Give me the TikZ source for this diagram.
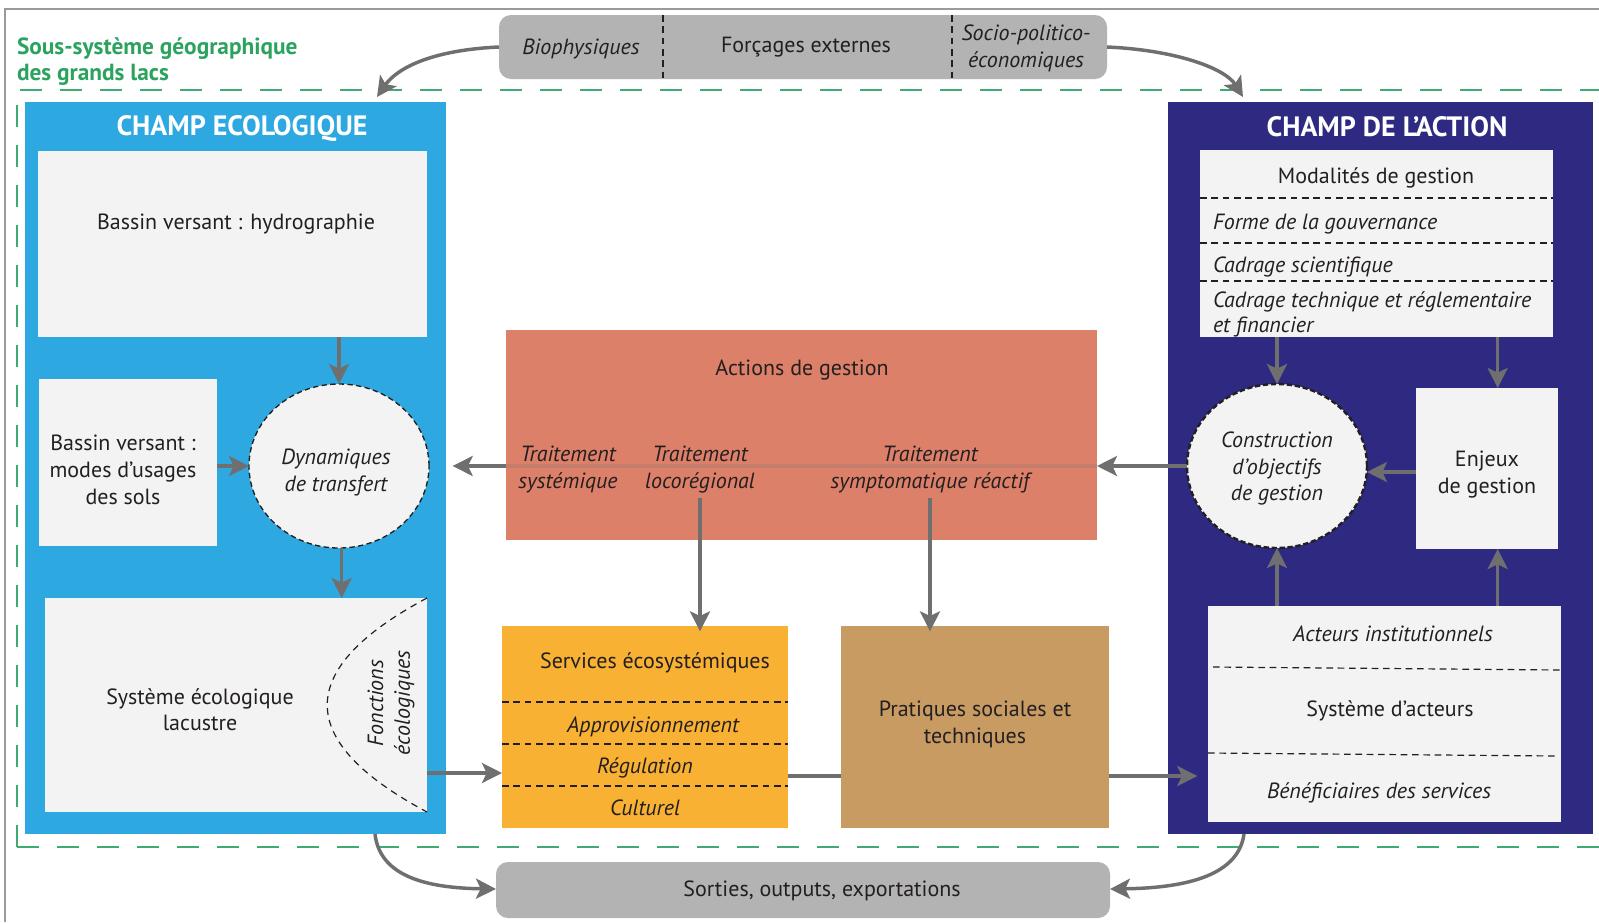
\documentclass[tikz,border=0pt]{standalone}
\usepackage{fontspec}
\setmainfont{PT Sans}
\usetikzlibrary{arrows.meta,shapes.geometric,fit,calc}
\definecolor{ecoblue}{HTML}{2EA8E0}
\definecolor{actblue}{HTML}{2E2A82}
\definecolor{boxgray}{HTML}{F3F3F3}
\definecolor{salmon}{HTML}{DC806A}
\definecolor{orangeS}{HTML}{F8B133}
\definecolor{tan}{HTML}{C89B63}
\definecolor{boxdark}{HTML}{B3B3B3}
\definecolor{arrgray}{HTML}{6F6F6F}
\definecolor{gtext}{HTML}{2BA35F}
\definecolor{gline}{HTML}{3FAA72}
\definecolor{txt}{HTML}{231F20}
\definecolor{framegray}{HTML}{9A9A9A}
\begin{document}
\begin{tikzpicture}[x=0.75pt,y=-0.75pt,
  every node/.style={inner sep=0pt, outer sep=0pt, text=txt, font=\fontsize{16.5}{20}\selectfont},
  fitbox/.style={inner sep=0pt, outer sep=0pt},
  t/.style={yshift=-2pt},
  arr/.style={draw=arrgray, line width=2.6pt, -{Stealth[length=15pt,width=15pt,inset=3.5pt]}},
  plainline/.style={draw=arrgray, line width=2.6pt},
  gdash/.style={draw=gline, line width=1.6pt, dash pattern=on 16.5pt off 13.5pt},
  sep/.style={draw=txt, line width=0.9pt, dash pattern=on 5pt off 3.5pt},
  ell/.style={ellipse, draw=txt, fill=boxgray, minimum width=135pt, minimum height=123pt},
  it/.style={t, font=\itshape\fontsize{16.5}{20}\selectfont},
  ttl/.style={t, text=white, font=\bfseries\fontsize{21}{24}\selectfont}]
\useasboundingbox (0,0) rectangle (1599,922);
\fill[white] (0,0) rectangle (1599,922);

% outer frame
\draw[framegray, line width=1.2pt] (5,922) -- (5,9) -- (1599,9);

% green dashed boundary
\draw[gdash] (17,847) -- (17,90) -- (1599,90);
\draw[gdash] (17,847) -- (1599,847);
\node[t, anchor=west, align=left, text=gtext, font=\bfseries\fontsize{17.5}{20}\selectfont] (sstitle) at (17,59) {Sous-système géographique\\des grands lacs};

% external forcings
\node[fitbox, fit={(499,15) (1107,79)}, fill=boxdark, rounded corners=9pt] (forc) {};
\draw[sep] (663,15) -- (663,79);
\draw[sep] (952,15) -- (952,79);
\node[it] (bio) at (581,46) {Biophysiques};
\node[t] (fe) at (806,44) {Forçages externes};
\node[it, align=center] (spe) at (1026,46) {Socio-politico-\\économiques};

% outputs
\node[fitbox, fit={(496,862) (1110,918)}, fill=boxdark, rounded corners=9pt] (sorties) {};
\node[t] (sortiest) at (822,888) {Sorties, outputs, exportations};

% ===== Champ ecologique
\node[fitbox, fit={(25,102) (446,834)}, fill=ecoblue] (eco) {};
\node[ttl] (ecot) at (242,126) {CHAMP ECOLOGIQUE};
\node[fitbox, fit={(38,151) (427,337)}, fill=boxgray] (hydro) {};
\node[t] (hydrot) at (236,221) {Bassin versant : hydrographie};
\node[fitbox, fit={(39,379) (217,546)}, fill=boxgray] (modes) {};
\node[t, align=center] (modest) at (123,467) {Bassin versant :\\modes d’usages\\des sols};
\node[ell, dash pattern=on 4pt off 2.5pt, line width=1pt] (dyn) at (339,466) {};
\node[it, align=center] (dynt) at (336,470) {Dynamiques\\de transfert};
\node[fitbox, fit={(45,598) (427,812)}, fill=boxgray] (lake) {};
\node[t, align=center] (laket) at (200,707) {Système écologique\\lacustre};
\draw[txt, line width=0.9pt, dash pattern=on 5pt off 4pt] (lake.north east) .. controls (294,669) and (294,741) .. (lake.south east);
\node[rotate=90, align=center, font=\itshape\fontsize{16.5}{20}\selectfont] (fonct) at (391,703) {Fonctions\\écologiques};

\draw[arr] (dyn.north |- hydro.south) -- (dyn.north);
\draw[arr] (modes.east |- dyn.west) -- (dyn.west);
\draw[arr] ([xshift=2pt]dyn.south) -- ([xshift=2pt]dyn.south |- lake.north);

% ===== Champ de l'action
\node[fitbox, fit={(1168,102) (1593,834)}, fill=actblue] (act) {};
\node[ttl] (actt) at (1387,124) {CHAMP DE L’ACTION};
\node[fitbox, fit={(1200,150) (1553,337)}, fill=boxgray] (modal) {};
\node[t] (modalt) at (1376,175) {Modalités de gestion};
\draw[sep] (1200,198) -- (1553,198);
\node[it, anchor=west] (forme) at (1213,221) {Forme de la gouvernance};
\draw[sep] (1200,243) -- (1553,243);
\node[it, anchor=west] (cadsci) at (1213,264) {Cadrage scientifique};
\draw[sep] (1200,281) -- (1553,281);
\node[it, anchor=west, align=left, font=\itshape\fontsize{16.5}{18.5}\selectfont] (cadtech) at (1213,312) {Cadrage technique et réglementaire\\et financier};

\node[ell, dash pattern=on 4pt off 2pt, line width=1.8pt] (constr) at (1277,466) {};
\node[it, align=center] (constrt) at (1277,466) {Construction\\d’objectifs\\de gestion};
\node[fitbox, fit={(1416,388) (1558,549)}, fill=boxgray] (enjeux) {};
\node[t, align=center] (enjeuxt) at (1487,472) {Enjeux\\de gestion};

\node[fitbox, fit={(1208,606) (1561,822)}, fill=boxgray] (actors) {};
\node[it] (acti) at (1393,631) {Acteurs institutionnels};
\draw[sep] (1213,667) -- (1561,670);
\node[t] (sysact) at (1390,708) {Système d’acteurs};
\draw[sep] (1208,753) -- (1557,756);
\node[it] (benef) at (1379,790) {Bénéficiaires des services};

\draw[arr] (constr.north |- modal.south) -- (constr.north);
\draw[arr] ([xshift=8pt]enjeux.north |- modal.south) -- ([xshift=8pt]enjeux.north);
\draw[arr] (enjeux.west |- 0,472) -- (constr.east |- 0,472);
\draw[arr] (constr.south |- actors.north) -- (constr.south);
\draw[arr] ([xshift=8pt]enjeux.south |- actors.north) -- ([xshift=8pt]enjeux.south);

% ===== Actions de gestion
\node[fitbox, fit={(506,330) (1097,540)}, fill=salmon] (actions) {};
\draw[arr] (constr.west) -- (constr.west -| actions.east);
\draw[arrgray, line width=2.6pt, opacity=0.22] (constr.west -| actions.east) -- (constr.west -| actions.west);
\draw[arr, shorten >=5pt] (constr.west -| actions.west) -- (constr.west -| eco.east);
\node[t] (actionst) at (802,367) {Actions de gestion};
\node[it, align=center] (sys) at (568,467) {Traitement\\systémique};
\node[it, align=center] (loco) at (700,467) {Traitement\\locorégional};
\node[it, align=center] (sympt) at (930,467) {Traitement\\symptomatique réactif};

% ===== Services & pratiques
\node[fitbox, fit={(502,626) (788,828)}, fill=orangeS] (serv) {};
\node[t] (servt) at (655,660) {Services écosystémiques};
\draw[sep] (502,702) -- (788,702);
\node[it] (appro) at (653,724) {Approvisionnement};
\draw[sep] (502,744) -- (788,744);
\node[it] (regul) at (645,765) {Régulation};
\draw[sep] (502,786) -- (788,786);
\node[it] (cult) at (645,805) {Culturel};

\node[fitbox, fit={(841,626) (1109,828)}, fill=tan] (prat) {};
\node[t, align=center] (pratt) at (975,722) {Pratiques sociales et\\techniques};

\draw[arr] ([yshift=-4pt]loco.south) -- ([yshift=-4pt]loco.south |- serv.north);
\draw[arr] ([yshift=-4pt]sympt.south) -- ([yshift=-4pt]sympt.south |- prat.north);
\coordinate (lakeout) at (lake.east |- 0,773);
\draw[arr] (lakeout) -- (lakeout -| serv.west);
\coordinate (servout) at (serv.east |- 0,776);
\draw[plainline] (servout) -- (servout -| prat.west);
\coordinate (pratout) at (prat.east |- 0,776);
\draw[arr] (pratout) -- ([xshift=-8pt]pratout -| actors.west);

% ===== curved flows
\coordinate (ecoin) at (377,97);
\coordinate (actin) at (1243,97);
\coordinate (ecoout) at (375,834);
\coordinate (actout) at (1244,834);
\draw[arr] (forc.west |- 0,47) .. controls (432,50) and (397,68) .. (ecoin);
\draw[arr] (forc.east |- 0,47) .. controls (1175,50) and (1225,68) .. (actin);
\draw[arr] (ecoout) .. controls (380,878) and (430,888) .. (sorties.west |- 0,889);
\draw[arr] (actout) .. controls (1238,878) and (1180,888) .. (sorties.east |- 0,889);
\end{tikzpicture}
\end{document}
